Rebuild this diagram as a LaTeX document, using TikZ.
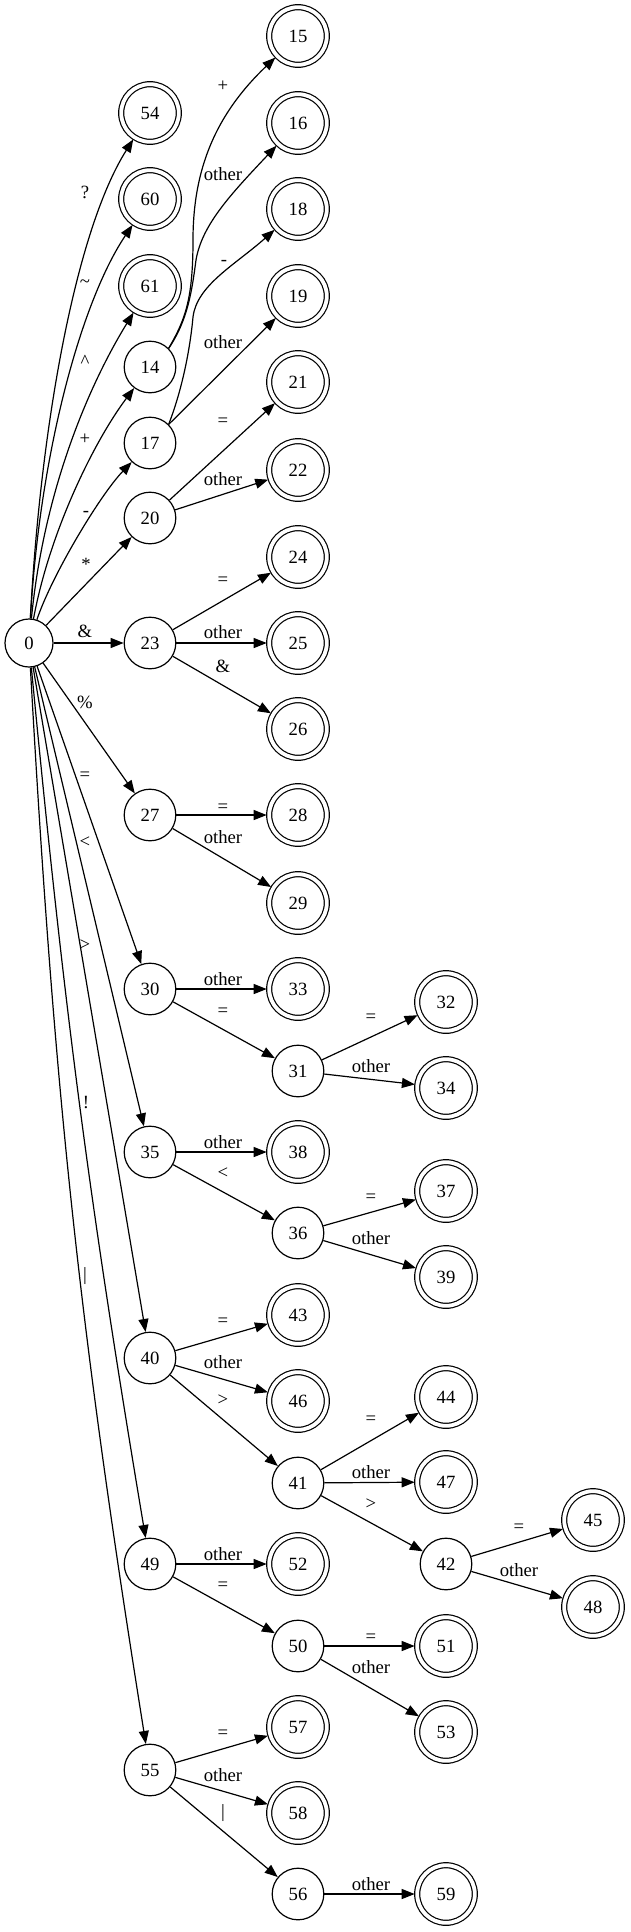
\documentclass[tikz,border=0pt]{standalone}
\usepackage{fontspec}
\setmainfont{Liberation Serif}
\usetikzlibrary{arrows.meta}

\begin{document}
\begin{tikzpicture}
  [x=1pt,y=1pt,line width=1.2pt,
   every node/.style={font=\fontsize{18.7}{22}\selectfont},
   state/.style={circle,draw,minimum size=51.6pt,inner sep=0pt},
   final/.style={circle,draw,double,double distance=3.8pt,minimum size=57.6pt,inner sep=0pt,outer sep=2.5pt},
   trans/.style={-{Triangle[length=13pt,width=10pt]}}]
  \useasboundingbox (0,0) rectangle (631,-1932);

  \node [state,minimum size=48pt] (n0) at (29,-643) {0};

  % second column
  \foreach \n/\y in {54/113,60/199,61/286}
    \node [final] (n\n) at (150,-\y) {\n};
  \foreach \n/\y in {14/367,17/443,20/518,23/643,27/815,30/989,35/1152,40/1358,49/1564,55/1770}
    \node [state] (n\n) at (150,-\y) {\n};

  % third column
  \foreach \n/\y in {15/36,16/123,18/209,19/296,21/382,22/470,24/557,25/643,26/729,28/815,29/903,33/989,38/1152,43/1315,46/1401,52/1564,57/1727,58/1813}
    \node [final] (n\n) at (298,-\y) {\n};
  \foreach \n/\y in {31/1071,36/1233,41/1483,50/1646,56/1894}
    \node [state] (n\n) at (298,-\y) {\n};

  % fourth and fifth column
  \foreach \n/\y in {32/1002,34/1088,37/1191,39/1277,44/1397,47/1482,51/1646,53/1732,59/1894}
    \node [final] (n\n) at (446,-\y) {\n};
  \node [state] (n42) at (446,-1564) {42};
  \node [final] (n45) at (593,-1520) {45};
  \node [final] (n48) at (593,-1607) {48};

  \foreach \from/\to in {n0/n20,n0/n23,n0/n27,n0/n30,n0/n35,n0/n40,n17/n19,n20/n21,n20/n22,n23/n24,n23/n25,n23/n26,n27/n28,n27/n29,n30/n33,n30/n31,n31/n32,n31/n34,n35/n38,n35/n36,n36/n37,n36/n39,n40/n43,n40/n46,n40/n41,n41/n44,n41/n47,n41/n42,n42/n45,n42/n48,n49/n52,n49/n50,n50/n51,n50/n53,n55/n57,n55/n58,n55/n56,n56/n59}
    \draw [trans] (\from) -- (\to);

  % curved ones
  \draw [trans] (n0) .. controls (41,-419) and (77,-228) .. (n54);
  \draw [trans] (n0) .. controls (40,-450) and (82,-300) .. (n60);
  \draw [trans] (n0) .. controls (45,-480) and (95,-375) .. (n61);
  \draw [trans] (n0) .. controls (50,-530) and (95,-440) .. (n14);
  \draw [trans] (n0) .. controls (52,-575) and (100,-495) .. (n17);
  \draw [trans] (n0) .. controls (64,-1008) and (89,-1200) .. (n49);
  \draw [trans] (n0) .. controls (54,-1090) and (79,-1325) .. (n55);
  \draw [trans] (n14.45) .. controls (185,-320) and (193,-300) .. (193,-240)
    .. controls (193,-170) and (215,-115) .. (n15);
  \draw [trans] (n14.45) .. controls (188,-320) and (192,-290) .. (196,-260)
    .. controls (202,-225) and (230,-195) .. (n16);
  \draw [trans] (n17.45) .. controls (182,-390) and (190,-350) .. (193,-317)
    .. controls (197,-285) and (235,-265) .. (n18);

  % labels
  \foreach \x/\y/\t [count=\i] in {85/193/?,85/282/\textasciitilde,85/362/\textasciicircum,85/439/+,86/511/-,86/565/*,85/632/\&,85/703/\%,85/775/=,85/842/<,85/945/>,86/1103/!,85/1275/|,
      223/87/+,223/175/other,224/260/-,223/343/other,223/421/=,223/480/other,223/580/=,223/633/other,223/667/\&,223/807/=,223/838/other,223/980/other,223/1011/=,223/1143/other,223/1173/<,223/1321/=,223/1363/other,223/1400/>,223/1555/other,223/1585/=,223/1733/=,223/1776/other,223/1812/|,
      371/1017/=,371/1067/other,371/1197/=,371/1239/other,371/1419/=,371/1473/other,371/1504/>,371/1637/=,371/1668/other,371/1885/other,
      519/1527/=,519/1571/other}
    \node [anchor=base] (l\i) at (\x,{-\y-5}) {\t};

\end{tikzpicture}
\end{document}
